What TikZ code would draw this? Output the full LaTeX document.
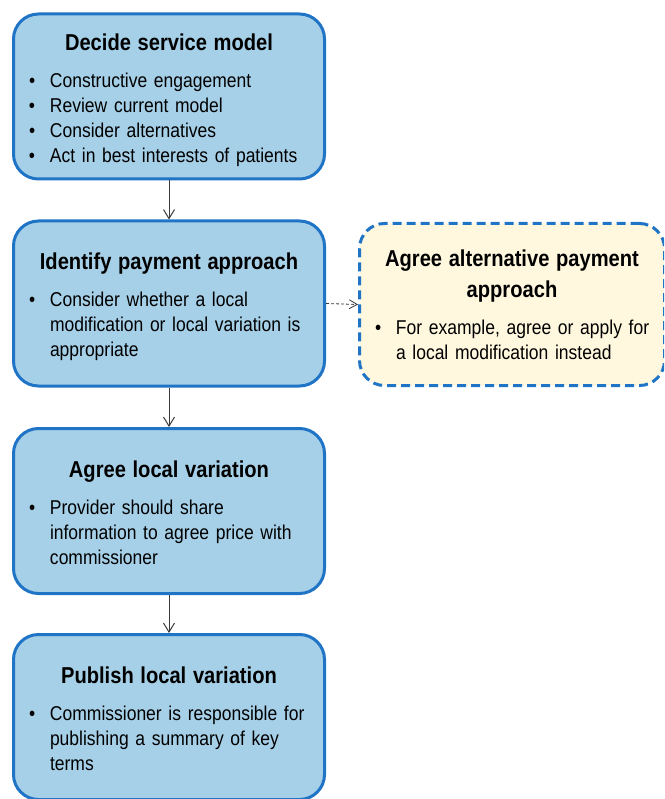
\documentclass[tikz,border=0pt]{standalone}
\usepackage{fontspec}
\setmainfont{Liberation Sans}[FakeStretch=0.875]
\usetikzlibrary{arrows.meta}

\definecolor{stageblue}{HTML}{A6D0E8}
\definecolor{stageedge}{HTML}{1F74C6}
\definecolor{altcream}{HTML}{FFF8DF}
\definecolor{linkgray}{HTML}{3A3A3A}

\newcommand{\stagetitle}[1]{{\centering\fontsize{23}{31}\selectfont\bfseries #1\par}\vspace{12pt}}
\newcommand{\bitem}[1]{\par\noindent\makebox[21pt][l]{\textbullet}%
    \begin{tabular}[t]{@{}l@{}}#1\end{tabular}}
\newcommand{\stageend}{\par\vspace{-10pt}}
\newcommand{\altend}{\par\vspace{-7pt}}

\begin{document}
\begin{tikzpicture}[x=1pt,y=-1pt,
    stagebox/.style={draw=stageedge, line width=3pt, rounded corners=25pt,
        align=left, font=\fontsize{20}{25}\selectfont},
    stage/.style={stagebox, fill=stageblue, minimum width=311pt, minimum height=165pt,
        text width=280pt, inner xsep=15.5pt, execute at end node=\stageend},
    altstage/.style={stagebox, fill=altcream, dash pattern=on 9pt off 5pt,
        minimum width=305pt, minimum height=162pt, text width=274pt, inner xsep=15.5pt,
        execute at end node=\altend},
    link/.style={draw=linkgray, line width=1pt, -{Straight Barb[length=9pt,width=11pt]}},
    altlink/.style={link, line width=0.8pt, dash pattern=on 3pt off 2pt,
        -{Straight Barb[length=8pt,width=9pt]}}]
    \useasboundingbox (0,0) rectangle (664,799);
    \clip (0,0) rectangle (664,799);

    \node[stage] (decide) at (169,96.5) {\stagetitle{Decide service model}
        \bitem{Constructive engagement}
        \bitem{Review current model}
        \bitem{Consider alternatives}
        \bitem{Act in best interests of patients}};
    \node[stage] (identify) at (169,303.5) {\stagetitle{Identify payment approach}
        \bitem{Consider whether a local\\modification or local variation is\\appropriate}};
    \node[altstage] (alt) at (512,304.5) {\stagetitle{Agree alternative payment\\approach}
        \bitem{For example, agree or apply for\\a local modification instead}};
    \node[stage] (agree) at (169,511) {\stagetitle{Agree local variation}
        \bitem{Provider should share\\information to agree price with\\commissioner}};
    \node[stage] (publish) at (169,717) {\stagetitle{Publish local variation}
        \bitem{Commissioner is responsible for\\publishing a summary of key\\terms}};

    \draw[link] (decide) -- (identify);
    \draw[link] (identify) -- (agree);
    \draw[link] (agree) -- (publish);
    \draw[altlink] (identify.east) -- (alt.west);
\end{tikzpicture}
\end{document}
